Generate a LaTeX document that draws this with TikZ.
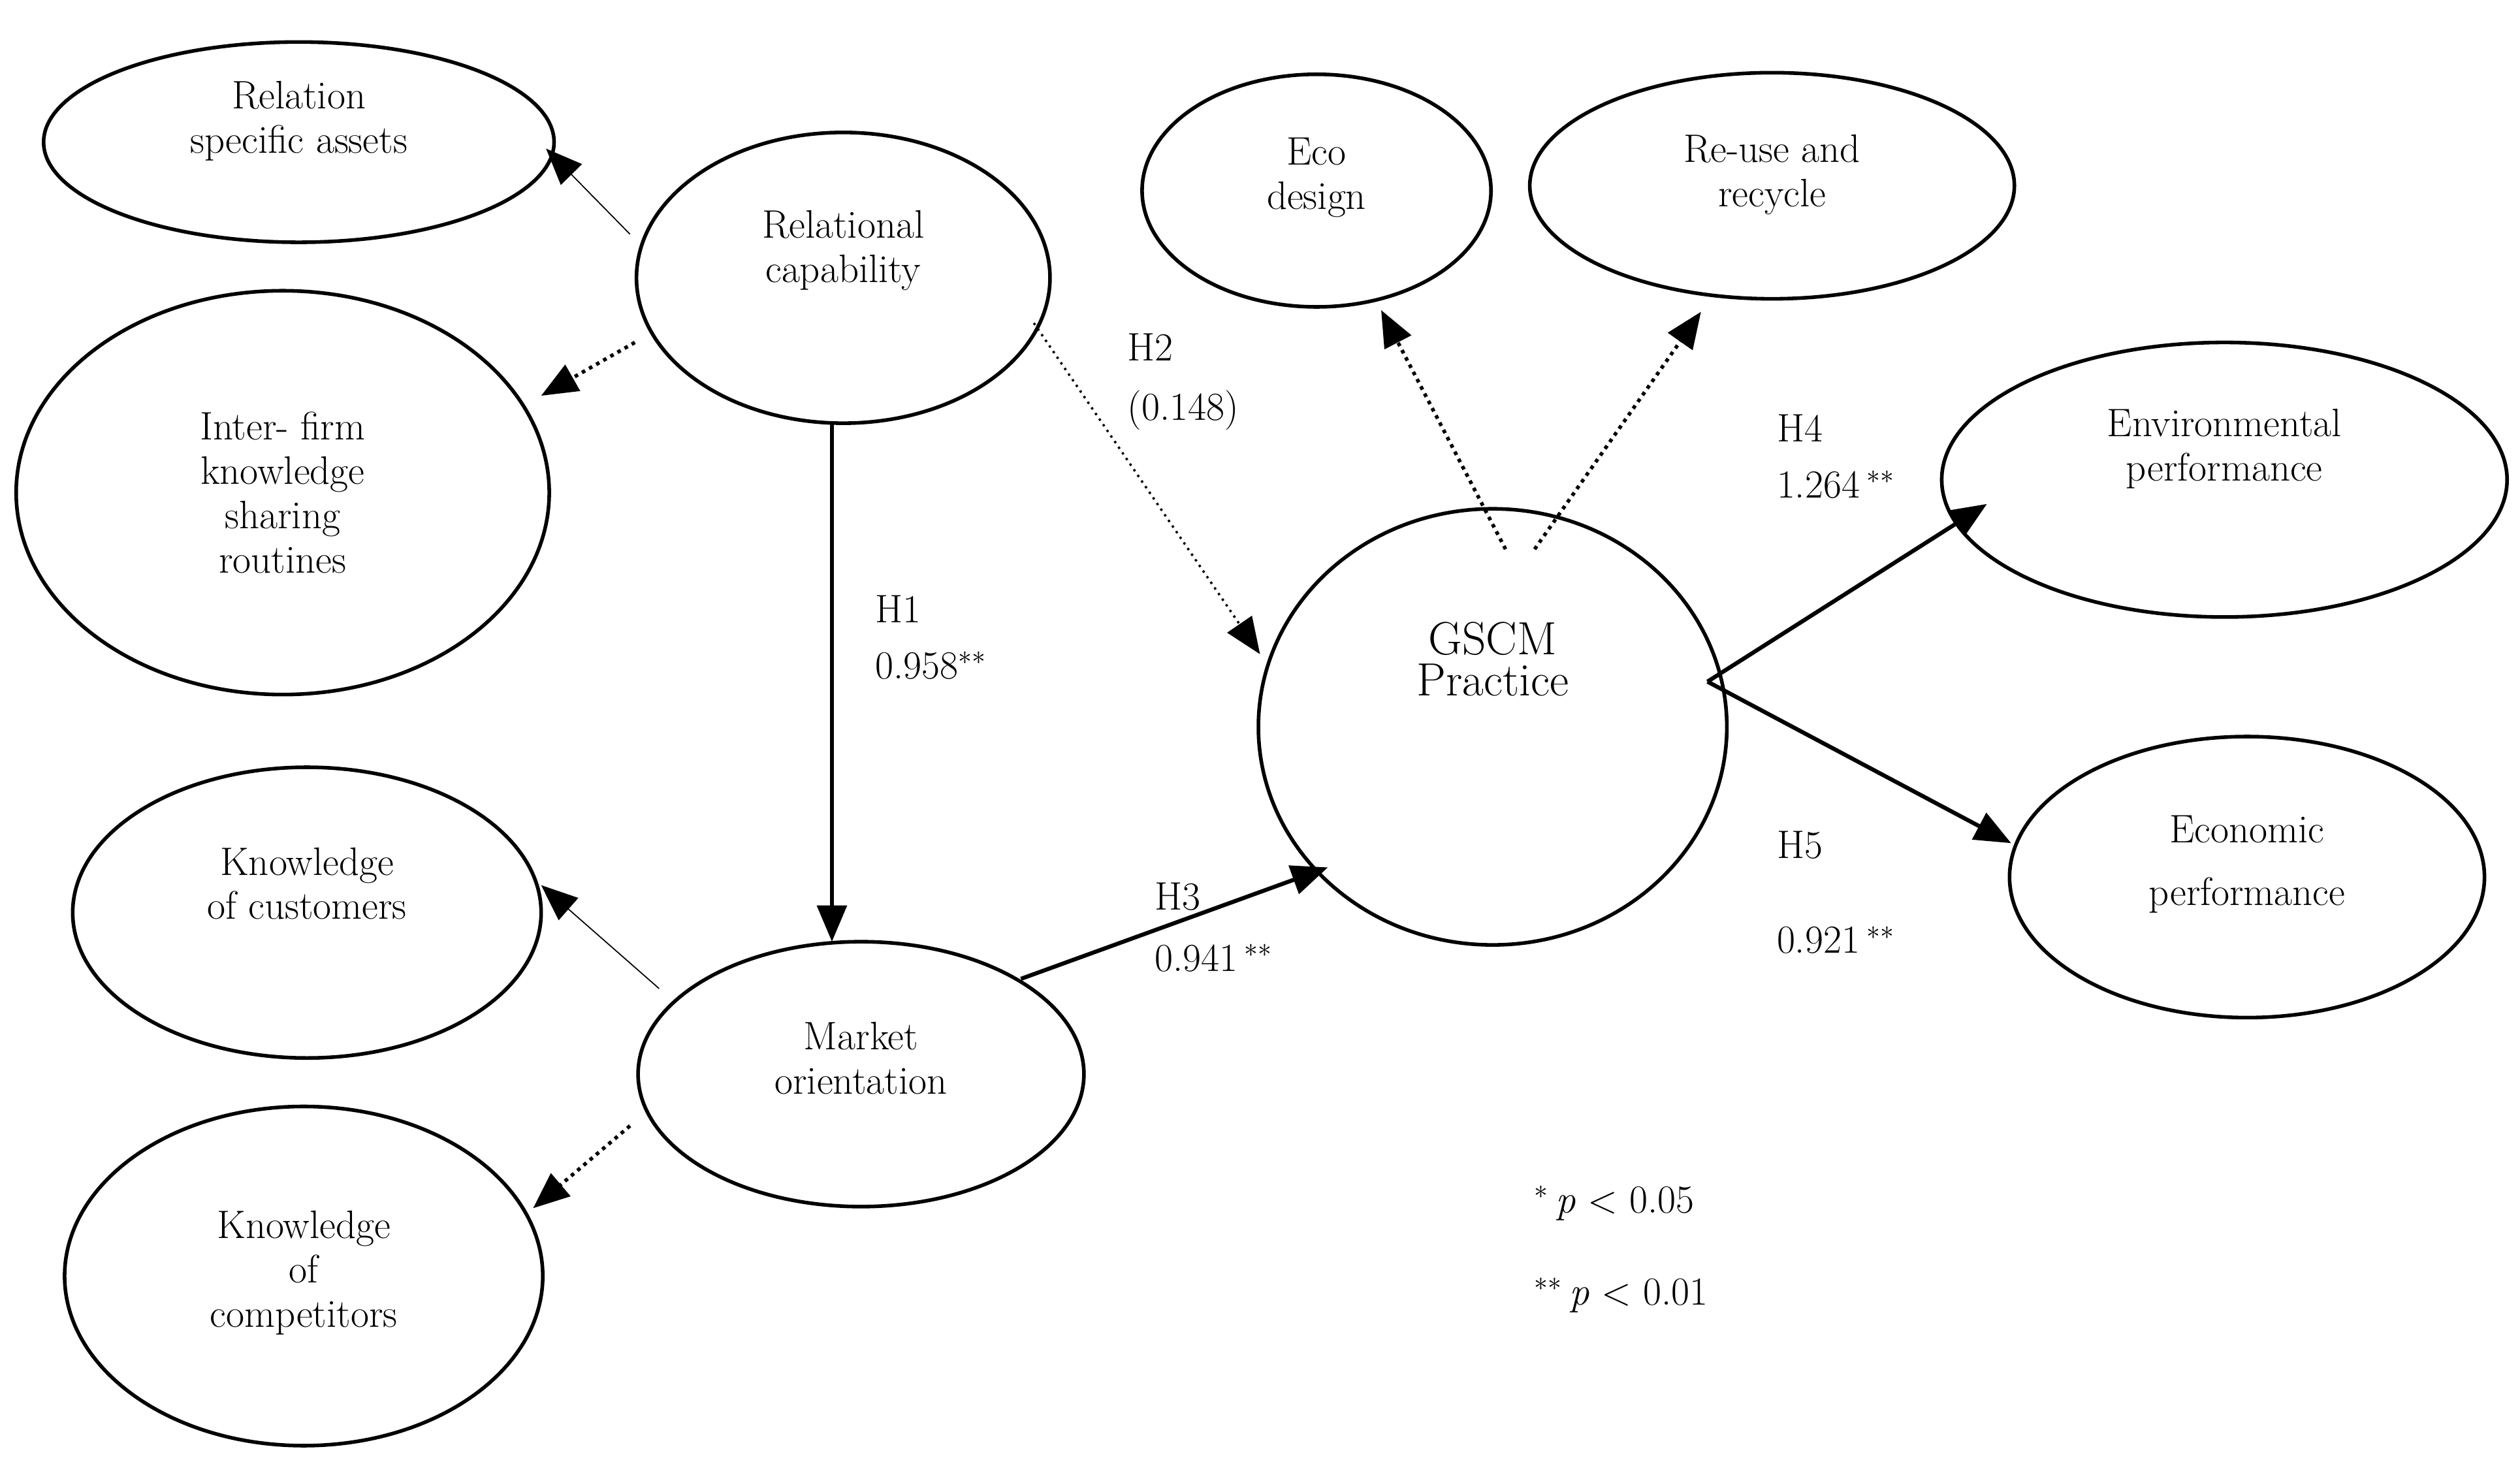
\documentclass[tikz,border=0pt]{standalone}
\usetikzlibrary{arrows.meta}
\begin{document}
\begin{tikzpicture}[x=0.025cm,y=-0.025cm,
  lbl/.style={font=\fontsize{17.5}{19.5}\selectfont,align=center},
  tip/.style={-{Triangle[length=16pt,width=13pt]}},
  thin/.style={tip,line width=0.5pt},
  thick/.style={tip,line width=1.8pt},
  dot/.style={tip,line width=1.6pt,dotted},
  txt/.style={font=\fontsize{17.5}{19}\selectfont,anchor=west}]
\useasboundingbox (0,0) rectangle (1560,905);
\newcommand\myoval[5]{\draw[line width=1.6pt] (#2,#3) ellipse [x radius=#4, y radius=#5]; \coordinate (#1) at (#2,#3);}
\myoval{rsa}{185}{88}{158}{62}
\myoval{rc}{522}{172}{128}{90}
\myoval{ifk}{175}{305}{165}{125}
\myoval{eco}{815}{118}{108}{72}
\myoval{reu}{1097}{115}{150}{70}
\myoval{env}{1377}{297}{175}{85}
\myoval{gscm}{924}{450}{145}{135}
\myoval{ecn}{1391}{543}{147}{87}
\myoval{koc}{190}{565}{145}{90}
\myoval{mo}{533}{665}{138}{82}
\myoval{kcomp}{188}{790}{148}{105}
\node[lbl] at (185,75) {Relation\\specific assets};
\node[lbl] at (522,155) {Relational\\capability};
\node[lbl] at (175,305) {Inter- firm\\knowledge\\sharing\\routines};
\node[lbl] at (815,110) {Eco\\design};
\node[lbl] at (1097,108) {Re-use and\\recycle};
\node[lbl] at (1377,278) {Environmental\\performance};
\node[lbl,font=\fontsize{20.5}{21}\selectfont] at (924,408) {GSCM\\[-3pt]Practice};
\node[lbl] at (1391,535) {Economic\\[8pt]performance};
\node[lbl] at (190,547) {Knowledge\\of customers};
\node[lbl] at (533,655) {Market\\orientation};
\node[lbl] at (188,788) {Knowledge\\of\\competitors};
\coordinate (a1) at (390,145); \coordinate (b1) at (338,92);
\coordinate (a2) at (393,212); \coordinate (b2) at (335,245);
\coordinate (a3) at (515,262); \coordinate (b3) at (515,583);
\coordinate (a4) at (640,200); \coordinate (b4) at (780,405);
\coordinate (a5) at (632,606); \coordinate (b5) at (822,537);
\coordinate (a6) at (932,340); \coordinate (b6) at (855,192);
\coordinate (a7) at (950,340); \coordinate (b7) at (1053,193);
\coordinate (g) at (1057,422);
\coordinate (b8) at (1230,312); \coordinate (b9) at (1245,522);
\coordinate (a10) at (408,612); \coordinate (b10) at (335,548);
\coordinate (a11) at (390,697); \coordinate (b11) at (330,748);
\draw[thin] (a1) -- (b1);
\draw[dot] (a2) -- (b2);
\draw[thick] (a3) -- (b3);
\draw[tip,line width=1pt,dotted] (a4) -- (b4);
\draw[thick] (a5) -- (b5);
\draw[dot] (a6) -- (b6);
\draw[dot] (a7) -- (b7);
\draw[thick] (g) -- (b8);
\draw[thick] (g) -- (b9);
\draw[thin] (a10) -- (b10);
\draw[dot] (a11) -- (b11);
\node[txt] at (537,377) {H1};
\node[txt] at (537,412) {0.958$^{**}$};
\node[txt] at (693,215) {H2};
\node[txt] at (693,254) {(0.148)};
\node[txt] at (710,555) {H3};
\node[txt] at (710,593) {0.941\,$^{**}$};
\node[txt] at (1095,265) {H4};
\node[txt] at (1095,300) {1.264\,$^{**}$};
\node[txt] at (1095,523) {H5};
\node[txt] at (1095,582) {0.921\,$^{**}$};
\node[txt] at (945,745) {$^{*}$\,\textit{p} $<$ 0.05};
\node[txt] at (945,802) {$^{**}$\,\textit{p} $<$ 0.01};
\end{tikzpicture}
\end{document}
